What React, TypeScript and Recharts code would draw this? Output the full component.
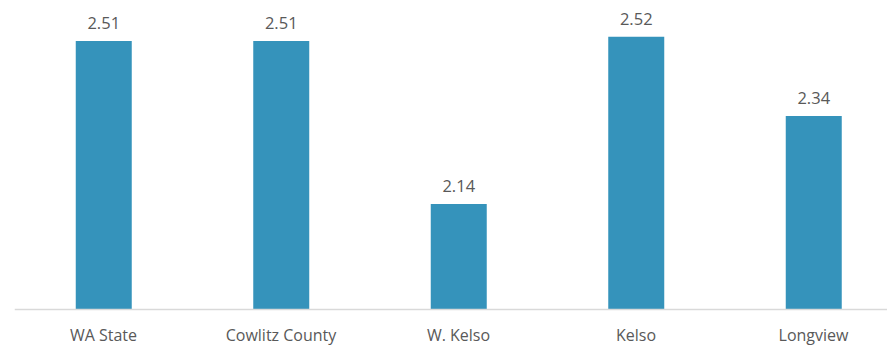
import React from "react";
import { BarChart, Bar, XAxis, YAxis, LabelList } from "recharts";

const categories = ["WA State", "Cowlitz County", "W. Kelso", "Kelso", "Longview"];
const values = [2.51, 2.51, 2.14, 2.52, 2.34];

const data = categories.map((name, i) => ({ name, value: values[i] }));

const FONT = "'Open Sans', 'Noto Sans', sans-serif";
const TEXT = "#595959";

const Tick = (props: any) => {
  const { x, y, payload } = props;
  return (
    <text x={x} y={y + 17} textAnchor="middle" dominantBaseline="central" fill={TEXT} fontFamily={FONT} fontSize={16}>
      {payload.value}
    </text>
  );
};

export default function App() {
  return (
    <div style={{ position: "absolute", left: 0, top: 0, width: 887, height: 347, overflow: "hidden", background: "#fff" }}>
      <BarChart
        width={910}
        height={347}
        data={data}
        margin={{ top: 1.5, right: 7.75, bottom: 0, left: 14.75 }}
        barCategoryGap={0}
      >
        <YAxis hide domain={[1.9, 2.6]} allowDataOverflow />
        <XAxis
          dataKey="name"
          height={37.5}
          tickLine={false}
          axisLine={{ stroke: "#d9d9d9", strokeWidth: 1.5 }}
          tick={<Tick />}
          interval={0}
        />
        <Bar dataKey="value" fill="#3593bb" barSize={56} isAnimationActive={false}>
          <LabelList
            dataKey="value"
            position="top"
            offset={12}
            fill={TEXT}
            fontFamily={FONT}
            fontSize={16.5}
            formatter={(v: any) => Number(v).toFixed(2)}
          />
        </Bar>
      </BarChart>
    </div>
  );
}
